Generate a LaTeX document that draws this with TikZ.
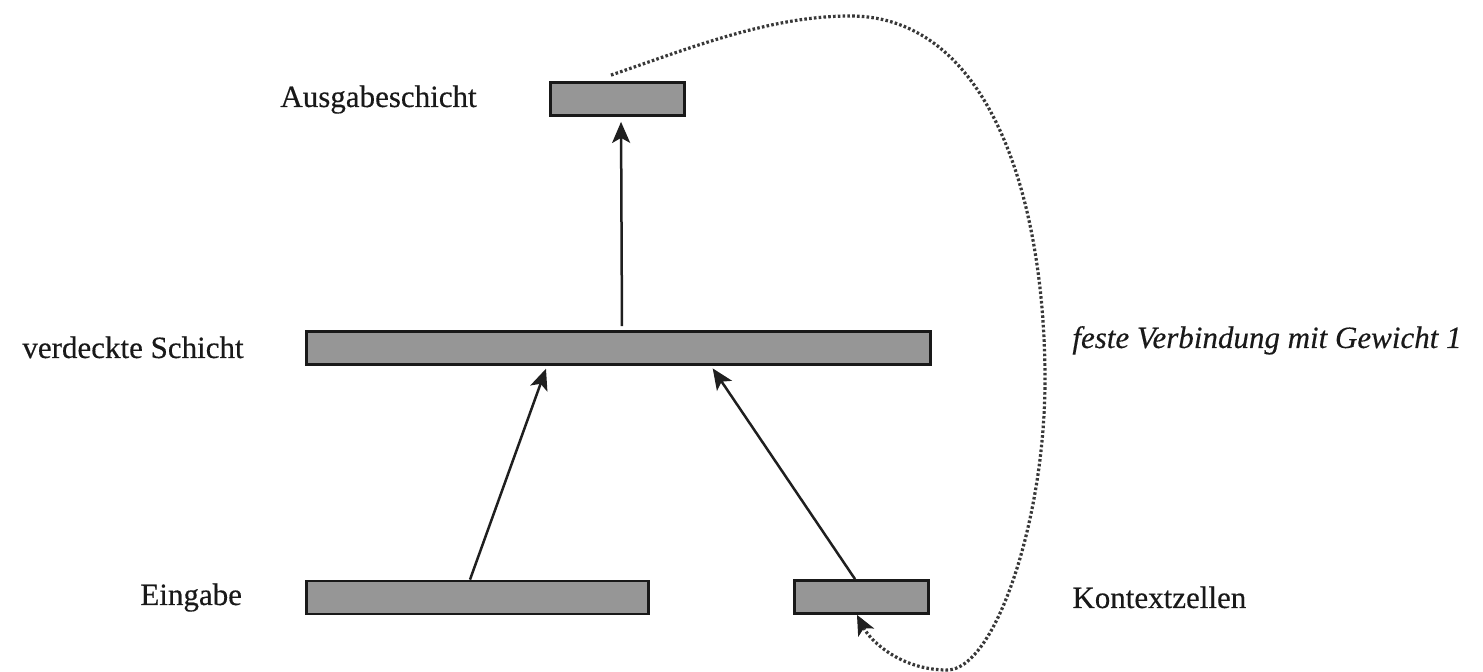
\documentclass[tikz,border=0pt]{standalone}
\usepackage{fontspec}
\setmainfont{Liberation Serif}
\newfontfamily\lblfont{Liberation Serif}[FakeBold=0.35]
\newfontfamily\lblitfont{Liberation Serif Italic}[FakeBold=0.35]
\usetikzlibrary{arrows.meta}
\begin{document}
\begin{tikzpicture}[x=0.5pt,y=-0.5pt,
  layer/.style={draw=black!90,line width=1.4pt,fill=black!41,inner sep=0pt,
    minimum height=16.5pt},
  lbl/.style={anchor=base west,inner sep=0pt,text=black!90,
    font=\lblfont\fontsize{15.5pt}{18pt}\selectfont},
  link/.style={line width=1.25pt,draw=black!88,
    -{Stealth[length=10.5pt,width=9pt,inset=2.5pt]}},
  feedback/.style={line width=1.6pt,draw=black!78,dash pattern=on 1.3pt off 1.1pt,
    -{Stealth[length=10pt,width=9pt,inset=2.5pt,color=black!88,fill=black!88,line width=0.5pt]}}]
\useasboundingbox (0,0) rectangle (1483,672);

% layers
\node[layer,minimum width=67pt]  (out) at (617.5,99)  {};
\node[layer,minimum width=312pt] (hid) at (618.5,348) {};
\node[layer,minimum width=171pt] (inp) at (477.5,597.5) {};
\node[layer,minimum width=67pt]  (ctx) at (861.5,597) {};

% labels
\node[lbl] (lout) at (280,107)  {Ausgabeschicht};
\node[lbl] (lhid) at (22,358)   {verdeckte Schicht};
\node[lbl] (linp) at (140,605)  {Eingabe};
\node[lbl] (lctx) at (1072,608) {Kontextzellen};
\node[lbl,font=\lblitfont\fontsize{15.5pt}{18pt}\selectfont] (lfb) at (1072,348)
  {feste Verbindung mit Gewicht 1};

% forward connections
\draw[link,shorten <=2pt,shorten >=2.5pt] ([xshift=1.75pt]hid.north) -- ([xshift=1.75pt]out.south);
\draw[link,shorten >=1.5pt] ([xshift=-3.75pt]inp.north) -- ([xshift=-35.75pt]hid.south);
\draw[link,shorten >=1.5pt] ([xshift=-3.25pt]ctx.north) -- ([xshift=46.25pt]hid.south);

% copy of the output back into the context cells
\coordinate (fbstart) at ([xshift=-3.25pt,yshift=3pt]out.north);
\draw[feedback] (fbstart)
  .. controls (690,48) and (770,16) .. (850,16)
  .. controls (990,16) and (1045,200) .. (1045,380)
  .. controls (1045,520) and (995,670) .. (947,670)
  .. controls (900,670) and (870,640) .. ([xshift=-2.25pt]ctx.south);
\end{tikzpicture}
\end{document}
